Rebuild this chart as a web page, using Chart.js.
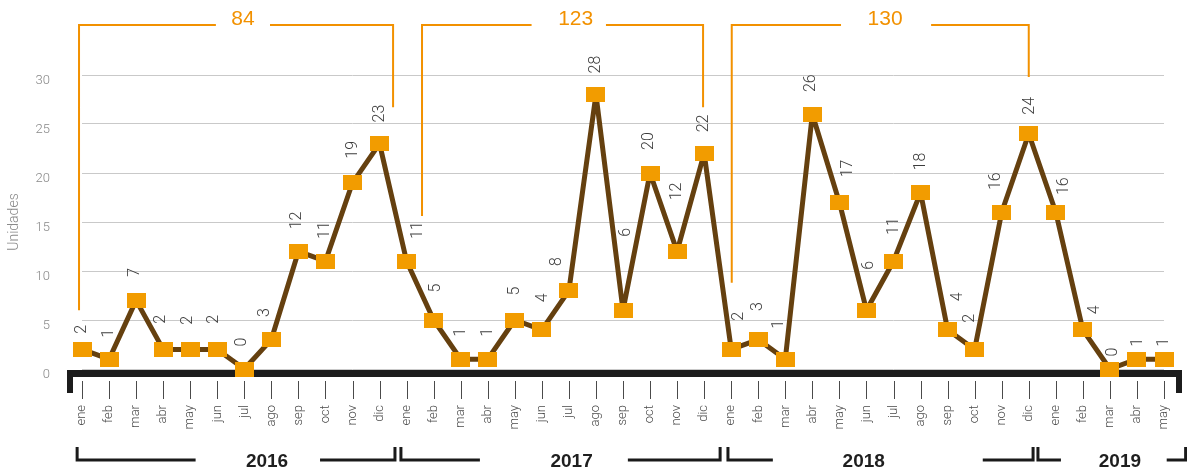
<!DOCTYPE html>
<html>
<head>
<meta charset="utf-8">
<script src="https://cdn.jsdelivr.net/npm/chart.js@4/dist/chart.umd.min.js"></script>
<style>
  html, body { margin: 0; padding: 0; background: #ffffff; }
  #wrap { width: 1187px; height: 469px; position: relative; }
</style>
</head>
<body>
<div id="wrap"><canvas id="c" width="1187" height="469"></canvas></div>
<script>
// ---------------- DATA ----------------
const monthNames = ['ene','feb','mar','abr','may','jun','jul','ago','sep','oct','nov','dic'];
const months2019 = ['ene','feb','mar','abr','may'];
const yearLabels = ['2016','2017','2018','2019'];
const units2016 = [2, 1, 7, 2, 2, 2, 0, 3, 12, 11, 19, 23];
const units2017 = [11, 5, 1, 1, 5, 4, 8, 28, 6, 20, 12, 22];
const units2018 = [2, 3, 1, 26, 17, 6, 11, 18, 4, 2, 16, 24];
const units2019 = [16, 4, 0, 1, 1];
const annualTotals = ['84', '123', '130'];
const yTickValues = [0, 5, 10, 15, 20, 25, 30];
const yAxisTitle = 'Unidades';

const categories = [...monthNames, ...monthNames, ...monthNames, ...months2019];
const units = [...units2016, ...units2017, ...units2018, ...units2019];

// ---------------- LAYOUT (positions / styles) ----------------
// value-label offsets (px) from each marker centre: [dx, dy]
const labelShift = [
  [0,-20],[0,-26],[-1,-28],[-2,-30],[-2,-29],[-3,-30],[-2,-27],[-6,-27],[-1,-31],[0,-31],[0,-33],[0,-30],
  [11,-31],[2,-32],[0,-27],[0,-27],[0,-29],[1,-32],[-12,-29],[0,-30],[3,-78],[-1,-32],[0,-60],[0,-30],
  [8,-33],[0,-33],[-6,-35],[-1,-31],[9,-34],[3,-45],[0,-35],[0,-31],[10,-33],[-5,-31],[-6,-31],[1,-28],
  [8,-26],[12,-20],[3,-17],[1,-17],[0,-17]
];
// year brackets (index positions on the x scale): [left, leftLineEnd, textCentre, rightLineStart, right]
const yearBrackets = [
  [-0.18, 4.2, 6.84, 8.8, 11.57],
  [11.79, 14.71, 18.1, 20.18, 23.59],
  [23.88, 25.54, 28.9, 33.3, 35.16],
  [35.34, 36.19, 38.37, 40.1, 40.8]
];
// total brackets: [left, gapStart, textCentre, gapEnd, right, leftBottomValue, rightBottomValue]
const totalBrackets = [
  [-0.11, 4.95, 5.95, 6.95, 11.5, 6.0, 26.7],
  [12.57, 16.62, 18.25, 19.37, 22.96, 15.6, 26.7],
  [24.02, 28.06, 29.69, 31.39, 35.0, 8.8, 29.8]
];

const ORANGE = '#f29100';
const MARKER = '#f29c00';
const BROWN = '#65400f';
const LIGHT = '"Roboto", "Liberation Sans", sans-serif';

// rectangular marker image
const marker = document.createElement('canvas');
marker.width = 19; marker.height = 15;
{ const m = marker.getContext('2d'); m.fillStyle = MARKER; m.fillRect(0, 0, 19, 15); }

const decorations = {
  id: 'decorations',
  beforeDatasetsDraw(chart) {
    const ctx = chart.ctx;
    const x = chart.scales.x;
    const area = chart.chartArea;
    ctx.save();
    // thick black base axis with end hooks
    ctx.fillStyle = '#1c1c1c';
    ctx.fillRect(67, area.bottom + 1, 1182 - 67, 7);
    ctx.fillRect(67, area.bottom + 1, 6, 23);
    ctx.fillRect(1176, area.bottom + 1, 6, 23);
    // tick marks below the axis
    ctx.strokeStyle = '#4a4a4a';
    ctx.lineWidth = 1;
    for (let i = 0; i < categories.length; i++) {
      const px = Math.round(x.getPixelForValue(i)) + 0.5;
      ctx.beginPath();
      ctx.moveTo(px, 381);
      ctx.lineTo(px, 399);
      ctx.stroke();
    }
    // year brackets
    ctx.strokeStyle = '#1a1a1a';
    ctx.lineWidth = 3;
    ctx.fillStyle = '#1f1f1f';
    ctx.font = 'bold 19px "Liberation Sans Narrow", "Liberation Sans", sans-serif';
    ctx.textAlign = 'center';
    ctx.textBaseline = 'middle';
    const by = 460;
    yearBrackets.forEach((b, k) => {
      const [l, le, tc, rs, r] = b.map(v => x.getPixelForValue(v));
      ctx.beginPath();
      ctx.moveTo(l, 447); ctx.lineTo(l, by); ctx.lineTo(le, by);
      ctx.moveTo(rs, by); ctx.lineTo(r, by); ctx.lineTo(r, 447);
      ctx.stroke();
      ctx.fillText(yearLabels[k], tc, 462);
    });
    ctx.restore();
  },
  afterDatasetsDraw(chart) {
    const ctx = chart.ctx;
    const x = chart.scales.x;
    const y = chart.scales.y;
    const meta = chart.getDatasetMeta(0);
    ctx.save();
    // value labels, rotated
    ctx.fillStyle = '#3c3c3c';
    ctx.font = '300 16px ' + LIGHT;
    ctx.textAlign = 'center';
    ctx.textBaseline = 'middle';
    meta.data.forEach((pt, i) => {
      const [dx, dy] = labelShift[i];
      ctx.save();
      ctx.translate(pt.x + dx, pt.y + dy);
      ctx.rotate(-Math.PI / 2);
      ctx.fillText(String(units[i]), 0, 0);
      ctx.restore();
    });
    // orange total brackets
    ctx.strokeStyle = ORANGE;
    ctx.lineWidth = 2;
    ctx.fillStyle = ORANGE;
    ctx.font = '21px "Liberation Sans", sans-serif';
    const ty = 25;
    totalBrackets.forEach((b, k) => {
      const l = x.getPixelForValue(b[0]);
      const gs = x.getPixelForValue(b[1]);
      const tc = x.getPixelForValue(b[2]);
      const ge = x.getPixelForValue(b[3]);
      const r = x.getPixelForValue(b[4]);
      const lb = y.getPixelForValue(b[5]);
      const rb = y.getPixelForValue(b[6]);
      ctx.beginPath();
      ctx.moveTo(l, lb); ctx.lineTo(l, ty); ctx.lineTo(gs, ty);
      ctx.moveTo(ge, ty); ctx.lineTo(r, ty); ctx.lineTo(r, rb);
      ctx.stroke();
      ctx.fillText(annualTotals[k], tc, 19);
    });
    ctx.restore();
  }
};

new Chart(document.getElementById('c'), {
  type: 'line',
  data: {
    labels: categories,
    datasets: [{
      data: units,
      borderColor: BROWN,
      borderWidth: 5,
      borderJoinStyle: 'round',
      pointStyle: marker,
      pointRadius: 9,
      pointHoverRadius: 9,
      tension: 0,
      fill: false,
      clip: false
    }]
  },
  options: {
    responsive: false,
    animation: false,
    devicePixelRatio: 1,
    layout: { padding: { top: 75, right: 23, bottom: 0, left: 0 } },
    plugins: { legend: { display: false }, tooltip: { enabled: false } },
    scales: {
      x: {
        type: 'category',
        offset: false,
        grid: { display: false, drawTicks: false },
        border: { display: false },
        ticks: {
          autoSkip: false, maxRotation: 90, minRotation: 90, padding: 36,
          color: '#4a4a4a', font: { family: LIGHT, size: 13, weight: '300' }
        },
        afterFit(s) { s.height = 100; s.paddingLeft = 0; s.paddingRight = 0; }
      },
      y: {
        min: 0, max: 30,
        afterBuildTicks(s) { s.ticks = yTickValues.map(v => ({ value: v })); },
        grid: { color: '#c9c9c9', lineWidth: 1, drawTicks: false },
        border: { display: false },
        ticks: {
          padding: 32, labelOffset: 6, color: '#888888',
          font: { family: LIGHT, size: 13, weight: '300' }
        },
        title: {
          display: true, text: yAxisTitle, color: '#8a8a8a',
          font: { family: LIGHT, size: 14, weight: '300' },
          padding: { top: 6, bottom: 0 }
        },
        afterFit(s) { s.width = 82; s.paddingTop = 0; s.paddingBottom = 0; }
      }
    }
  },
  plugins: [decorations]
});
</script>
</body>
</html>
